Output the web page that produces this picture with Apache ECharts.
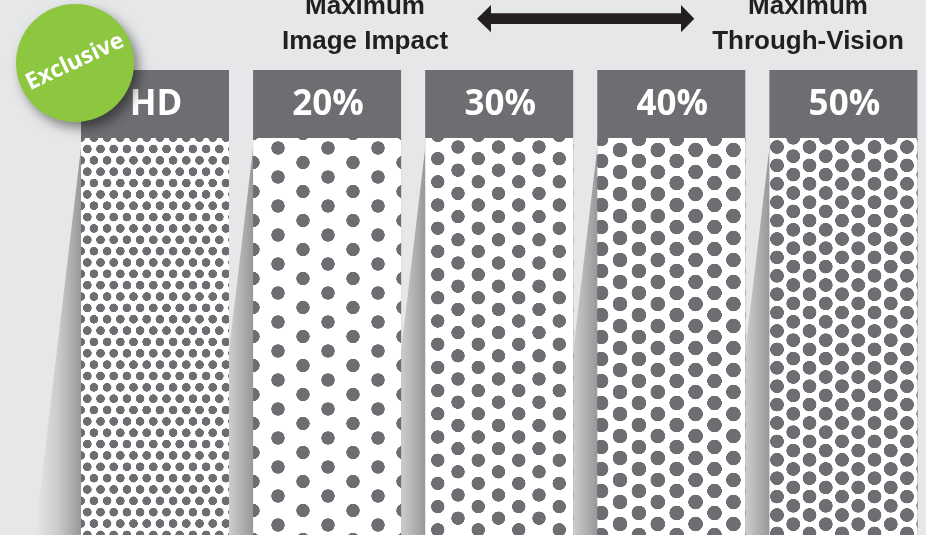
<!DOCTYPE html>
<html><head><meta charset="utf-8">
<script src="https://cdn.jsdelivr.net/npm/echarts@6/dist/echarts.min.js"></script>
<style>html,body{margin:0;padding:0;background:#e6e7e8;}#chart{width:926px;height:535px;}</style>
</head><body><div id="chart"></div>
<script>
// ---- data ----
const categories = ['HD', '20%', '30%', '40%', '50%'];
const openAreaPct = [null, 20, 30, 40, 50];
const leftCaption = ['Maximum', 'Image Impact'];
const rightCaption = ['Maximum', 'Through-Vision'];
const badgeText = 'Exclusive';

// ---- style (layout / pattern geometry) ----
const BG = '#e6e7e8';
const GREY = '#6d6e71';
const BODY_H = 397;   // y-axis units == px
const HEAD_H = 68;
const BAR_W = 148;
const X_MIN = -0.9006, X_MAX = 4.480;   // horizontal extent of the panel axis
const dotStyles = [
  { w: 13.2, rs: 11.35, r: 4.35, x: 87.3, y: 149 },
  { w: 50,   rs: 14.5,  r: 6.7, x: 278,  y: 148 },
  { w: 40.5, rs: 11.6,  r: 6.7, x: 458,  y: 147 },
  { w: 37.8, rs: 11.0,  r: 7.3, x: 620,  y: 150 },
  { w: 32.5, rs: 9.2,   r: 6.9, x: 777,  y: 147 }
];

function makePattern(s) {
  const S = 4;
  const cw = Math.round(s.w * S), ch = Math.round(2 * s.rs * S);
  const c = document.createElement('canvas');
  c.width = cw; c.height = ch;
  const g = c.getContext('2d');
  g.fillStyle = '#ffffff';
  g.fillRect(0, 0, cw, ch);
  g.fillStyle = GREY;
  [[0, 0], [cw, 0], [0, ch], [cw, ch], [cw / 2, ch / 2]].forEach(p => {
    g.beginPath(); g.arc(p[0], p[1], s.r * S, 0, Math.PI * 2); g.fill();
  });
  return { image: c, repeat: 'repeat', x: s.x, y: s.y, scaleX: s.w / cw, scaleY: 2 * s.rs / ch };
}

const chart = echarts.init(document.getElementById('chart'), null, { renderer: 'canvas' });

const option = {
  backgroundColor: BG,
  animation: false,
  grid: { left: 0, right: 0, top: 70, bottom: 0, containLabel: false },
  xAxis: { type: 'value', min: X_MIN, max: X_MAX, show: false },
  yAxis: { type: 'value', min: 0, max: BODY_H + HEAD_H, show: false },
  series: [
    {
      type: 'custom',
      z: 1,
      data: categories.map((c, i) => [i]),
      renderItem: function (params, api) {
        const bottom = api.coord([api.value(0), 0]);
        const top = api.coord([api.value(0), BODY_H]);
        const left = bottom[0] - BAR_W / 2;
        return {
          type: 'polygon',
          shape: { points: [[left, top[1] + 10], [left - 46, bottom[1]], [left, bottom[1]]] },
          style: {
            fill: new echarts.graphic.LinearGradient(0, 0, 1, 0, [
              { offset: 0, color: 'rgba(0,0,0,0)' },
              { offset: 0.5, color: 'rgba(0,0,0,0.12)' },
              { offset: 1, color: 'rgba(0,0,0,0.34)' }
            ])
          }
        };
      }
    },
    {
      // full panel (header colour); its top part is the header band
      type: 'bar', barWidth: BAR_W, barGap: '-100%', z: 2,
      itemStyle: { color: GREY },
      label: {
        show: true, position: [BAR_W / 2 + 1, HEAD_H / 2 + 1], align: 'center', verticalAlign: 'middle',
        formatter: p => categories[p.dataIndex],
        color: '#ffffff', fontSize: 35, fontWeight: 'bold', fontFamily: 'Open Sans'
      },
      data: categories.map((c, i) => [i, BODY_H + HEAD_H])
    },
    {
      // perforated body below the header
      type: 'bar', barWidth: BAR_W, barGap: '-100%', z: 3,
      data: categories.map((c, i) => ({ value: [i, BODY_H], itemStyle: { color: makePattern(dotStyles[i]) } }))
    }
  ],
  graphic: [
    {
      type: 'polygon', z: 100,
      shape: { points: [[477, 18.7], [491, 5], [491, 13.3], [681, 13.3], [681, 5], [694.3, 18.7], [681, 32.3], [681, 24], [491, 24], [491, 32.3]] },
      style: { fill: '#231f20' }
    },
    {
      type: 'text', z: 100, x: 365, y: 24,
      style: { text: leftCaption.join('\n'), align: 'center', verticalAlign: 'middle', lineHeight: 35,
        fontSize: 26, fontWeight: 'bold', fontFamily: 'Liberation Sans', fill: '#231f20' }
    },
    {
      type: 'text', z: 100, x: 808, y: 24,
      style: { text: rightCaption.join('\n'), align: 'center', verticalAlign: 'middle', lineHeight: 35,
        fontSize: 26, fontWeight: 'bold', fontFamily: 'Liberation Sans', fill: '#231f20' }
    },
    {
      type: 'circle', z: 100,
      shape: { cx: 75, cy: 63, r: 59 },
      style: { fill: '#8dc63f', shadowBlur: 12, shadowOffsetX: 5, shadowOffsetY: 6, shadowColor: 'rgba(0,0,0,0.45)' }
    },
    {
      type: 'text', z: 101, x: 75, y: 62, rotation: 25 * Math.PI / 180,
      style: { text: badgeText, align: 'center', verticalAlign: 'middle',
        fontSize: 23, fontWeight: 'bold', fontFamily: 'Open Sans', fill: '#ffffff' }
    }
  ]
};
chart.setOption(option);
</script>
</body></html>
